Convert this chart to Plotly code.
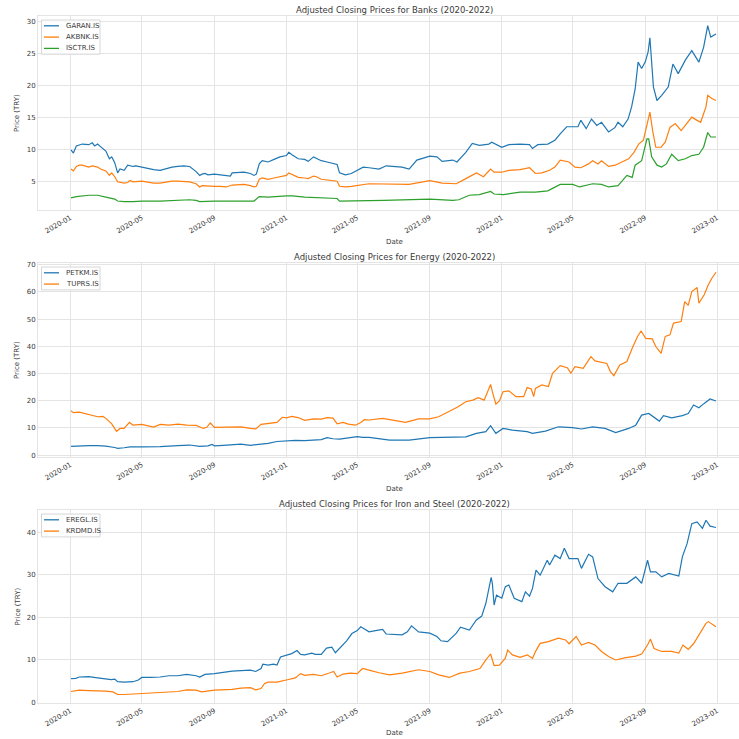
import plotly.graph_objects as go

# ---------------- Banks ----------------
garan_dates = ["2020-01-02","2020-01-06","2020-01-11","2020-01-16","2020-01-21","2020-02-01","2020-02-07","2020-02-11","2020-02-16","2020-02-21",
"2020-03-01","2020-03-07","2020-03-11","2020-03-16","2020-03-21","2020-03-25","2020-04-01","2020-04-07","2020-04-16","2020-04-21",
"2020-05-01","2020-05-11","2020-05-21","2020-06-01","2020-06-11","2020-06-21","2020-07-01","2020-07-11","2020-07-21","2020-08-01",
"2020-08-07","2020-08-11","2020-08-16","2020-08-21","2020-09-01","2020-09-11","2020-09-21","2020-09-28","2020-10-01","2020-10-11",
"2020-10-21","2020-11-01","2020-11-07","2020-11-11","2020-11-16","2020-11-21","2020-12-01","2020-12-11","2020-12-21","2021-01-01",
"2021-01-05","2021-01-11","2021-01-21","2021-02-01","2021-02-07","2021-02-16","2021-02-21","2021-03-01","2021-03-11","2021-03-21",
"2021-03-28","2021-04-01","2021-04-11","2021-04-21","2021-05-01","2021-05-11","2021-05-21","2021-06-07","2021-06-19","2021-07-16",
"2021-07-28","2021-08-10","2021-09-01","2021-09-13","2021-09-22","2021-10-10","2021-10-17","2021-11-01","2021-11-12","2021-11-24",
"2021-12-10","2021-12-15","2022-01-01","2022-01-13","2022-02-01","2022-02-17","2022-02-22","2022-03-03","2022-03-20","2022-04-01",
"2022-04-10","2022-04-21","2022-05-10","2022-05-15","2022-05-24","2022-06-02","2022-06-11","2022-06-19","2022-07-01","2022-07-12",
"2022-07-17","2022-07-25","2022-08-03","2022-08-09","2022-08-15","2022-08-20","2022-08-26","2022-09-01","2022-09-06","2022-09-09",
"2022-09-15","2022-09-21","2022-09-29","2022-10-10","2022-10-18","2022-10-27","2022-11-08","2022-11-19","2022-12-01","2022-12-09",
"2022-12-16","2022-12-21","2022-12-30"]
garan_prices = [10.0,9.5,10.6,10.8,10.9,10.8,11.1,10.6,10.9,10.5,
9.8,8.6,8.9,8.0,6.4,7.0,6.8,7.6,7.4,7.5,
7.3,7.2,6.9,6.8,7.1,7.3,7.4,7.5,7.4,6.6,
6.0,6.2,6.3,6.1,6.2,6.1,6.0,5.9,6.4,6.4,
6.5,6.3,6.0,6.2,7.8,8.3,8.1,8.5,8.9,9.1,
9.6,9.2,8.6,8.5,8.2,8.9,8.7,8.3,8.1,7.9,
7.7,6.4,6.1,6.3,6.8,7.3,7.2,7.0,7.5,7.3,
7.0,8.4,9.0,8.9,8.2,8.4,8.1,9.6,11.0,10.7,
10.9,11.2,10.4,10.8,10.9,10.8,10.2,10.8,10.9,11.5,
12.5,13.6,13.6,14.6,13.3,14.8,13.8,14.3,12.8,13.5,
14.3,13.6,14.8,16.7,19.5,23.7,22.7,23.7,25.3,27.5,
19.8,17.7,18.5,19.8,23.4,21.9,24.0,25.5,23.7,26.0,
29.4,27.6,28.1]

akbnk_dates = ["2020-01-02","2020-01-06","2020-01-11","2020-01-16","2020-01-21","2020-02-01","2020-02-07","2020-02-16","2020-02-21","2020-03-01",
"2020-03-07","2020-03-11","2020-03-16","2020-03-21","2020-04-01","2020-04-07","2020-04-11","2020-04-16","2020-05-01","2020-05-11",
"2020-05-21","2020-06-01","2020-06-11","2020-06-21","2020-07-01","2020-07-11","2020-07-21","2020-08-01","2020-08-07","2020-08-11",
"2020-08-21","2020-09-01","2020-09-11","2020-09-21","2020-10-01","2020-10-11","2020-10-21","2020-11-01","2020-11-07","2020-11-11",
"2020-11-16","2020-11-21","2020-12-01","2020-12-11","2020-12-21","2021-01-01","2021-01-05","2021-01-11","2021-01-21","2021-02-01",
"2021-02-07","2021-02-16","2021-02-21","2021-03-01","2021-03-11","2021-03-21","2021-03-28","2021-04-01","2021-04-11","2021-04-21",
"2021-05-01","2021-05-11","2021-05-21","2021-07-28","2021-09-01","2021-09-22","2021-10-16","2021-11-01","2021-11-19","2021-12-01",
"2021-12-13","2021-12-19","2022-01-01","2022-01-13","2022-02-01","2022-02-17","2022-02-27","2022-03-10","2022-03-23","2022-04-01",
"2022-04-10","2022-04-25","2022-05-05","2022-05-15","2022-05-28","2022-06-04","2022-06-13","2022-06-19","2022-07-01","2022-07-12",
"2022-07-23","2022-08-04","2022-08-13","2022-08-21","2022-08-29","2022-09-05","2022-09-09","2022-09-14","2022-09-19","2022-09-28",
"2022-10-05","2022-10-13","2022-10-22","2022-11-01","2022-11-11","2022-11-19","2022-11-28","2022-12-04","2022-12-13","2022-12-16",
"2022-12-23","2022-12-30"]
akbnk_prices = [7.0,6.7,7.4,7.6,7.6,7.3,7.5,7.3,7.0,6.7,
6.0,6.4,5.8,5.0,4.8,4.9,5.2,5.0,5.1,4.9,
4.8,4.8,5.0,5.1,5.1,5.1,5.0,4.7,4.2,4.4,
4.3,4.3,4.3,4.2,4.5,4.5,4.6,4.4,4.2,4.3,
5.4,5.6,5.4,5.6,5.8,6.0,6.4,6.1,5.7,5.6,
5.5,5.9,5.8,5.4,5.3,5.2,5.1,4.3,4.2,4.3,
4.4,4.6,4.7,4.6,5.2,4.8,4.7,5.5,6.4,5.8,
7.0,6.5,6.5,6.8,6.9,7.2,6.3,6.4,6.8,7.3,
8.4,8.1,7.3,7.2,7.8,8.3,7.8,8.3,7.4,7.6,
8.1,8.6,9.6,10.9,11.5,14.3,15.9,12.8,10.4,10.4,
11.2,13.5,14.1,13.0,14.1,15.1,14.6,14.3,16.7,18.5,
18.0,17.7]

isctr_dates = ["2020-01-02","2020-01-11","2020-02-01","2020-02-16","2020-03-01","2020-03-16","2020-03-21","2020-04-01","2020-04-16","2020-05-01",
"2020-06-01","2020-07-01","2020-07-21","2020-08-01","2020-08-07","2020-09-01","2020-10-01","2020-10-21","2020-11-07","2020-11-16",
"2020-12-01","2021-01-01","2021-01-11","2021-02-01","2021-03-01","2021-03-28","2021-04-01","2021-05-01","2021-05-11","2021-06-15",
"2021-09-01","2021-10-10","2021-10-20","2021-11-07","2021-11-24","2021-12-13","2021-12-19","2022-01-04","2022-02-01","2022-02-27",
"2022-03-20","2022-04-10","2022-05-01","2022-05-13","2022-06-04","2022-06-19","2022-07-01","2022-07-17","2022-08-01","2022-08-10",
"2022-08-15","2022-08-26","2022-09-04","2022-09-07","2022-09-12","2022-09-21","2022-09-29","2022-10-07","2022-10-16","2022-10-27",
"2022-11-08","2022-11-19","2022-12-01","2022-12-09","2022-12-16","2022-12-21","2022-12-30"]
isctr_prices = [2.5,2.7,2.9,2.9,2.6,2.3,2.0,1.9,1.9,2.0,
2.0,2.1,2.2,2.1,1.9,2.0,2.0,2.1,2.0,2.7,
2.6,2.8,2.8,2.6,2.5,2.4,2.0,2.0,2.1,2.1,
2.3,2.1,2.2,2.9,3.0,3.5,3.1,3.0,3.4,3.4,
3.6,4.6,4.6,4.2,4.7,4.6,4.2,4.4,6.0,5.7,
7.6,8.3,11.7,11.7,8.9,7.6,7.3,7.8,9.3,8.3,
8.6,9.1,9.3,10.4,12.7,12.0,12.0]

# ---------------- Energy ----------------
petkm_dates = ["2020-01-02","2020-01-16","2020-02-01","2020-02-16","2020-03-01","2020-03-16","2020-03-21","2020-04-01","2020-04-11","2020-05-01",
"2020-06-01","2020-07-01","2020-07-21","2020-08-07","2020-08-21","2020-08-28","2020-09-01","2020-09-16","2020-10-01","2020-10-16",
"2020-11-01","2020-11-16","2020-12-01","2020-12-16","2021-01-01","2021-01-16","2021-02-01","2021-02-16","2021-03-01","2021-03-11",
"2021-03-21","2021-04-01","2021-04-11","2021-05-01","2021-05-10","2021-05-21","2021-06-25","2021-07-28","2021-09-01","2021-10-04",
"2021-11-01","2021-11-19","2021-12-05","2021-12-13","2021-12-22","2022-01-03","2022-01-19","2022-02-13","2022-02-22","2022-03-16",
"2022-04-07","2022-05-01","2022-05-16","2022-06-04","2022-06-25","2022-07-13","2022-08-04","2022-08-16","2022-08-26","2022-09-07",
"2022-09-19","2022-09-25","2022-10-02","2022-10-16","2022-11-03","2022-11-13","2022-11-22","2022-12-01","2022-12-10","2022-12-20",
"2022-12-30"]
petkm_prices = [3.2,3.4,3.5,3.5,3.3,2.8,2.5,2.7,3.0,3.0,
3.1,3.5,3.7,3.2,3.4,3.9,3.4,3.6,3.8,4.0,
3.6,3.9,4.3,5.0,5.2,5.4,5.3,5.5,5.7,6.4,
6.0,5.9,6.2,6.8,6.5,6.5,5.5,5.5,6.4,6.7,
6.7,8.0,8.6,10.8,8.0,9.8,9.2,8.6,8.0,8.8,
10.4,10.1,9.6,10.4,9.8,8.3,9.8,11.0,14.7,15.3,
13.5,12.5,14.5,13.7,14.5,15.3,18.4,17.4,19.0,20.6,
19.9]

tuprs_dates = ["2020-01-02","2020-01-06","2020-01-16","2020-02-01","2020-02-16","2020-02-25","2020-03-01","2020-03-11","2020-03-19","2020-03-25",
"2020-04-01","2020-04-10","2020-04-16","2020-05-01","2020-05-10","2020-05-21","2020-06-01","2020-06-16","2020-07-01","2020-07-16",
"2020-08-01","2020-08-13","2020-08-19","2020-08-25","2020-09-01","2020-09-16","2020-10-01","2020-10-16","2020-11-01","2020-11-10",
"2020-11-19","2020-12-01","2020-12-16","2020-12-25","2021-01-01","2021-01-10","2021-01-21","2021-02-01","2021-02-16","2021-03-01",
"2021-03-11","2021-03-21","2021-03-28","2021-04-07","2021-04-16","2021-04-28","2021-05-07","2021-05-13","2021-05-21","2021-06-13",
"2021-07-05","2021-07-22","2021-08-13","2021-09-01","2021-09-16","2021-10-04","2021-10-19","2021-11-01","2021-11-13","2021-11-22",
"2021-12-02","2021-12-08","2021-12-13","2021-12-16","2021-12-22","2021-12-28","2022-01-03","2022-01-13","2022-01-25","2022-02-07",
"2022-02-13","2022-02-20","2022-02-24","2022-02-27","2022-03-10","2022-03-21","2022-03-28","2022-04-10","2022-04-22","2022-04-28",
"2022-05-05","2022-05-19","2022-06-01","2022-06-08","2022-06-19","2022-06-28","2022-07-04","2022-07-10","2022-07-20","2022-08-01",
"2022-08-10","2022-08-19","2022-08-25","2022-09-02","2022-09-13","2022-09-19","2022-09-28","2022-10-05","2022-10-13","2022-10-19",
"2022-11-01","2022-11-07","2022-11-13","2022-11-19","2022-11-28","2022-12-01","2022-12-10","2022-12-17","2022-12-23","2022-12-30"]
tuprs_prices = [16.3,15.6,15.8,14.8,14.1,14.2,13.5,11.5,8.7,9.8,
9.8,12.0,11.0,11.3,10.8,10.3,11.3,11.0,11.4,11.0,
10.9,9.8,10.2,11.8,10.2,10.3,10.3,10.4,9.8,9.6,
11.3,11.5,12.0,13.9,13.7,14.2,13.8,12.8,13.3,13.2,
13.8,13.6,11.5,12.0,11.4,11.0,12.0,13.0,12.9,13.5,
12.5,12.0,13.3,13.3,14.1,16.0,17.8,19.6,20.2,21.1,
20.2,23.3,26.0,23.3,18.7,19.9,23.3,23.6,21.5,21.5,
24.8,24.3,21.5,24.5,25.8,25.2,30.1,32.9,32.1,30.1,
32.5,31.9,36.2,34.6,34.1,33.7,30.7,29.2,33.1,34.4,
39.3,43.6,45.6,42.9,42.7,39.9,37.4,43.6,44.2,48.5,
49.1,56.4,55.0,60.1,61.6,55.8,58.9,62.6,65.0,67.2]

# ---------------- Iron and Steel ----------------
eregl_dates = ["2020-01-02","2020-01-10","2020-01-16","2020-02-01","2020-02-16","2020-03-01","2020-03-10","2020-03-16","2020-03-21","2020-04-01",
"2020-04-16","2020-04-25","2020-05-01","2020-05-16","2020-06-01","2020-06-16","2020-07-01","2020-07-16","2020-08-01","2020-08-07",
"2020-08-16","2020-09-01","2020-09-16","2020-10-01","2020-10-16","2020-11-01","2020-11-10","2020-11-19","2020-11-22","2020-12-01",
"2020-12-10","2020-12-16","2020-12-22","2021-01-01","2021-01-10","2021-01-19","2021-01-25","2021-02-01","2021-02-13","2021-02-19",
"2021-03-01","2021-03-10","2021-03-19","2021-03-25","2021-04-01","2021-04-13","2021-04-22","2021-05-01","2021-05-07","2021-05-13",
"2021-05-21","2021-06-01","2021-06-13","2021-06-19","2021-07-16","2021-07-25","2021-08-01","2021-08-13","2021-09-01","2021-09-13",
"2021-09-20","2021-10-01","2021-10-16","2021-10-23","2021-11-07","2021-11-19","2021-11-28","2021-12-05","2021-12-10","2021-12-14",
"2021-12-16","2021-12-19","2021-12-23","2022-01-01","2022-01-07","2022-01-13","2022-01-22","2022-02-04","2022-02-10","2022-02-17",
"2022-02-22","2022-02-28","2022-03-07","2022-03-19","2022-03-23","2022-04-01","2022-04-10","2022-04-17","2022-04-25","2022-05-10",
"2022-05-16","2022-05-28","2022-06-04","2022-06-13","2022-06-25","2022-07-08","2022-07-17","2022-08-01","2022-08-16","2022-08-26",
"2022-09-05","2022-09-10","2022-09-19","2022-09-29","2022-10-11","2022-10-28","2022-11-03","2022-11-11","2022-11-19","2022-11-28",
"2022-12-07","2022-12-13","2022-12-20","2022-12-30"]
eregl_prices = [5.6,5.7,6.0,6.1,5.8,5.6,5.4,5.5,4.9,4.8,
4.9,5.3,5.9,5.9,6.0,6.3,6.3,6.6,6.3,6.0,
6.6,6.8,7.1,7.4,7.5,7.6,7.3,8.0,9.0,8.8,
9.0,8.8,10.7,11.1,11.5,12.2,11.3,11.2,11.6,11.3,
11.3,12.8,13.0,11.7,12.7,14.5,16.2,16.9,17.8,17.3,
16.6,16.9,17.2,16.1,15.9,16.6,18.0,16.6,16.3,15.5,
14.5,14.3,16.3,17.7,17.0,19.4,20.3,23.3,27.2,29.4,
28.0,22.9,25.2,24.5,27.2,27.6,24.5,23.7,26.0,25.0,
26.8,31.1,29.9,33.4,32.3,34.6,33.8,36.2,33.8,33.8,
31.5,34.8,34.2,29.1,27.2,26.0,28.0,28.0,29.5,28.0,
33.4,30.7,30.7,29.5,30.3,29.7,34.2,37.3,42.0,42.4,
40.9,42.8,41.4,41.1]

krdmd_dates = ["2020-01-02","2020-01-10","2020-01-16","2020-02-01","2020-02-16","2020-03-01","2020-03-13","2020-03-21","2020-04-01","2020-04-16",
"2020-05-01","2020-06-01","2020-07-01","2020-07-16","2020-08-01","2020-08-10","2020-08-19","2020-09-01","2020-10-01","2020-10-16",
"2020-11-01","2020-11-10","2020-11-19","2020-11-25","2020-12-01","2020-12-16","2021-01-01","2021-01-16","2021-01-25","2021-02-01",
"2021-02-16","2021-03-01","2021-03-16","2021-03-22","2021-03-28","2021-04-07","2021-04-19","2021-05-01","2021-05-10","2021-05-16",
"2021-05-21","2021-06-07","2021-06-25","2021-07-16","2021-08-13","2021-09-01","2021-09-16","2021-10-04","2021-10-22","2021-11-07",
"2021-11-25","2021-12-05","2021-12-13","2021-12-19","2021-12-28","2022-01-07","2022-01-11","2022-01-19","2022-02-01","2022-02-13",
"2022-02-22","2022-02-28","2022-03-07","2022-03-21","2022-04-07","2022-04-19","2022-04-25","2022-05-07","2022-05-16","2022-05-28",
"2022-06-08","2022-06-19","2022-07-01","2022-07-13","2022-07-28","2022-08-16","2022-08-26","2022-09-05","2022-09-10","2022-09-16",
"2022-09-29","2022-10-16","2022-10-28","2022-11-04","2022-11-13","2022-11-22","2022-12-01","2022-12-13","2022-12-17","2022-12-30"]
krdmd_prices = [2.6,2.8,2.9,2.8,2.8,2.7,2.5,1.9,1.9,2.0,
2.2,2.4,2.6,3.0,2.9,2.5,2.7,2.9,3.1,3.4,
3.5,3.0,3.3,4.5,4.8,4.8,5.3,5.8,6.8,6.4,
6.6,6.3,7.0,7.3,6.0,6.7,6.9,6.8,8.0,7.7,
7.6,7.0,6.5,6.9,7.7,7.3,6.5,5.9,6.9,7.3,
8.0,10.0,11.4,8.7,8.8,10.4,12.3,11.2,10.6,11.2,
10.4,12.2,13.9,14.3,15.1,14.7,13.8,15.5,13.5,14.1,
13.5,12.0,10.8,10.0,10.5,10.9,11.4,13.5,14.9,12.7,
12.0,12.0,11.6,13.5,12.5,13.8,15.9,18.6,19.0,17.8]

panel_titles = ["Adjusted Closing Prices for Banks (2020-2022)",
                "Adjusted Closing Prices for Energy (2020-2022)",
                "Adjusted Closing Prices for Iron and Steel (2020-2022)"]
x_label = "Date"
y_label = "Price (TRY)"

C_BLUE, C_ORANGE, C_GREEN = "#1f77b4", "#ff7f0e", "#2ca02c"
W = H = 739
FONT = "DejaVu Sans"
TXT = "#3a3a3a"
GRID = "#e4e4e4"

series = [
    (1, "GARAN.IS", garan_dates, garan_prices, C_BLUE),
    (1, "AKBNK.IS", akbnk_dates, akbnk_prices, C_ORANGE),
    (1, "ISCTR.IS", isctr_dates, isctr_prices, C_GREEN),
    (2, "PETKM.IS", petkm_dates, petkm_prices, C_BLUE),
    (2, "TUPRS.IS", tuprs_dates, tuprs_prices, C_ORANGE),
    (3, "EREGL.IS", eregl_dates, eregl_prices, C_BLUE),
    (3, "KRDMD.IS", krdmd_dates, krdmd_prices, C_ORANGE),
]

def py(px):
    return 1 - px / H

def pxx(px):
    return px / W

# panel pixel boxes (top, bottom)
panels = [(16, 210), (263, 457), (510, 703)]
y_ranges = [[0.6, 30.9], [-0.7, 70.6], [-0.1, 45.2]]
y_dticks = [5, 10, 10]
x_left_px = 38
x_range = ["2019-11-07", "2023-02-07"]

fig = go.Figure()
for row, name, d, v, col in series:
    sfx = "" if row == 1 else str(row)
    fig.add_trace(go.Scatter(
        x=d, y=v, mode="lines", name=name,
        line=dict(color=col, width=1.2),
        xaxis="x" + sfx, yaxis="y" + sfx,
    ))

layout = dict(
    width=W, height=H,
    margin=dict(l=0, r=0, t=0, b=0),
    paper_bgcolor="white", plot_bgcolor="white",
    font=dict(family=FONT, size=7, color=TXT),
    annotations=[], shapes=[], showlegend=False,
)

for i, (top, bot) in enumerate(panels):
    sfx = "" if i == 0 else str(i + 1)
    layout["xaxis" + sfx] = dict(
        domain=[pxx(x_left_px), 1], anchor="y" + sfx,
        type="date", range=x_range,
        tick0="2020-01-01", dtick="M4", tickformat="%Y-%m",
        tickangle=-30, tickfont=dict(size=7, color=TXT),
        showgrid=True, gridcolor=GRID, gridwidth=1,
        showline=True, linecolor=GRID, linewidth=1, mirror=True,
        ticks="", zeroline=False, automargin=False,
    )
    layout["yaxis" + sfx] = dict(
        domain=[py(bot), py(top)], anchor="x" + sfx,
        range=y_ranges[i], dtick=y_dticks[i], tick0=0,
        tickfont=dict(size=7, color=TXT),
        showgrid=True, gridcolor=GRID, gridwidth=1,
        showline=True, linecolor=GRID, linewidth=1, mirror=True,
        ticks="", zeroline=False, automargin=False,
    )
    cx = pxx((38 + 750) / 2)
    layout["annotations"].append(dict(
        text=panel_titles[i], x=cx, y=py(top - 6), xref="paper", yref="paper",
        xanchor="center", yanchor="middle", showarrow=False,
        font=dict(size=8.5, color=TXT)))
    layout["annotations"].append(dict(
        text=x_label, x=cx, y=py(min(bot + 32, 733)), xref="paper", yref="paper",
        xanchor="center", yanchor="middle", showarrow=False,
        font=dict(size=7, color=TXT)))
    layout["annotations"].append(dict(
        text=y_label, x=pxx(17), y=py((top + bot) / 2), xref="paper", yref="paper",
        xanchor="center", yanchor="middle", textangle=-90, showarrow=False,
        font=dict(size=7, color=TXT)))

    # compact matplotlib-style legend box for this panel
    entries = [(name, col) for row, name, d, v, col in series if row == i + 1]
    step = 11.3
    box_top = top + 4
    first = box_top + 5.8
    box_bot = first + step * (len(entries) - 1) + 5.8
    layout["shapes"].append(dict(
        type="rect", xref="paper", yref="paper",
        x0=pxx(41.5), x1=pxx(100), y0=py(box_bot), y1=py(box_top),
        fillcolor="rgba(255,255,255,0.85)", line=dict(color="#d6d6d6", width=1),
        layer="above"))
    for k, (name, col) in enumerate(entries):
        yc = first + step * k
        layout["shapes"].append(dict(
            type="line", xref="paper", yref="paper",
            x0=pxx(44), x1=pxx(59), y0=py(yc), y1=py(yc),
            line=dict(color=col, width=1.3), layer="above"))
        layout["annotations"].append(dict(
            text=name, x=pxx(64), y=py(yc), xref="paper", yref="paper",
            xanchor="left", yanchor="middle", showarrow=False,
            font=dict(size=7, color=TXT)))

fig.update_layout(**layout)
fig.write_html(
    "out.html",
    config={"displayModeBar": False},
    post_script="document.body.style.margin='0';document.body.style.padding='0';",
)
